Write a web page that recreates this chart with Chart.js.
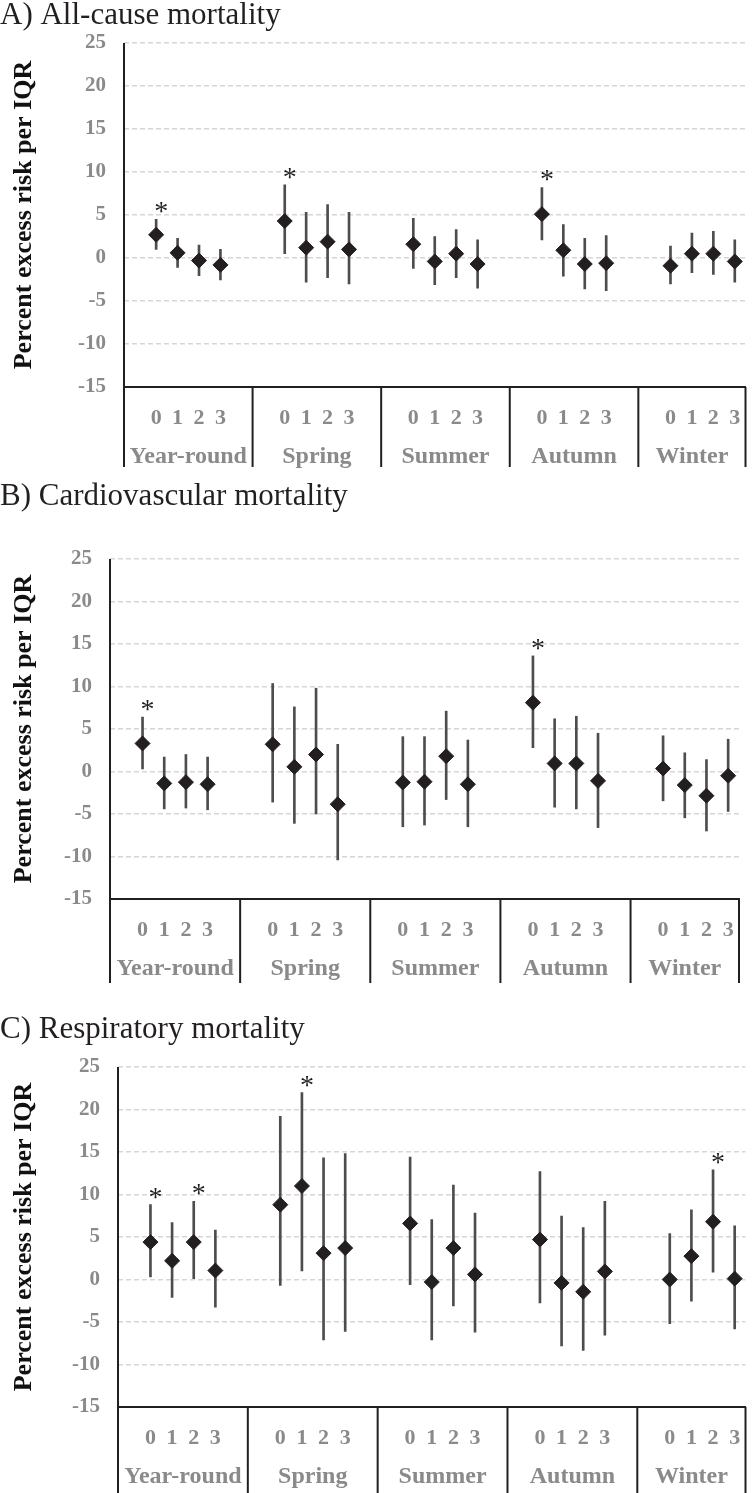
<!DOCTYPE html>
<html>
<head>
<meta charset="utf-8">
<script src="https://cdn.jsdelivr.net/npm/chart.js@4.4.0/dist/chart.umd.min.js"></script>
<style>
  body { margin: 0; background: #fff; }
  .panel { position: absolute; left: 0; width: 754px; }
</style>
</head>
<body>
<div class="panel" style="top:0px"><canvas id="chartA" width="754" height="470"></canvas></div>
<div class="panel" style="top:470px"><canvas id="chartB" width="754" height="513"></canvas></div>
<div class="panel" style="top:983px"><canvas id="chartC" width="754" height="510"></canvas></div>
<script>
const seasons = ["Year-round", "Spring", "Summer", "Autumn", "Winter"];
const lags = ["0", "1", "2", "3"];

// A) all-cause: estimate, lower and upper CI, significance
const allEst = [2.7, 0.6, -0.3, -0.8, 4.3, 1.2, 1.9, 1.0, 1.6, -0.4, 0.5, -0.7, 5.1, 0.9, -0.7, -0.6, -0.9, 0.5, 0.5, -0.4];
const allLo = [1.0, -1.1, -2.05, -2.55, 0.5, -2.8, -2.3, -3.0, -1.2, -3.1, -2.3, -3.5, 2.1, -2.1, -3.6, -3.8, -3.0, -1.7, -1.9, -2.8];
const allHi = [4.5, 2.3, 1.5, 1.0, 8.5, 5.3, 6.2, 5.3, 4.6, 2.5, 3.3, 2.1, 8.2, 3.9, 2.3, 2.6, 1.4, 2.9, 3.1, 2.1];
const allSig = [1, 0, 0, 0, 1, 0, 0, 0, 0, 0, 0, 0, 1, 0, 0, 0, 0, 0, 0, 0];

// B) cardiovascular
const cvEst = [3.3, -1.4, -1.25, -1.5, 3.2, 0.55, 2.0, -3.85, -1.3, -1.2, 1.8, -1.5, 8.1, 0.95, 0.95, -1.1, 0.35, -1.6, -2.85, -0.5];
const cvLo = [0.3, -4.4, -4.3, -4.5, -3.6, -6.1, -5.0, -10.4, -6.5, -6.3, -3.3, -6.5, 2.8, -4.2, -4.4, -6.6, -3.45, -5.45, -7.0, -4.7];
const cvHi = [6.4, 1.7, 2.0, 1.7, 10.35, 7.6, 9.8, 3.2, 4.1, 4.1, 7.1, 3.7, 13.6, 6.2, 6.5, 4.5, 4.2, 2.2, 1.4, 3.8];
const cvSig = [1, 0, 0, 0, 0, 0, 0, 0, 0, 0, 0, 0, 1, 0, 0, 0, 0, 0, 0, 0];

// C) respiratory
const respEst = [4.4, 2.2, 4.4, 1.05, 8.8, 11.0, 3.1, 3.7, 6.6, -0.3, 3.7, 0.6, 4.7, -0.4, -1.45, 0.95, 0.0, 2.75, 6.8, 0.1];
const respLo = [0.3, -2.1, 0.1, -3.25, -0.7, 1.0, -7.1, -6.1, -0.6, -7.1, -3.1, -6.2, -2.75, -7.8, -8.35, -6.55, -5.2, -2.55, 0.85, -5.8];
const respHi = [8.8, 6.7, 9.2, 5.8, 19.2, 22.0, 14.3, 14.8, 14.4, 7.05, 11.1, 7.8, 12.7, 7.45, 6.1, 9.2, 5.4, 8.2, 12.9, 6.3];
const respSig = [1, 0, 1, 0, 0, 1, 0, 0, 0, 0, 0, 0, 0, 0, 0, 0, 0, 0, 1, 0];

const serif = "'Liberation Serif', 'Times New Roman', serif";
const gray = "#8a8a8a";
const ink = "#231f20";

// each season gets a blank slot before its 4 lags and one after (not after the last)
const labels = [];
const catIndex = [];
seasons.forEach((s, g) => {
  labels.push("");
  lags.forEach(l => { catIndex.push(labels.length); labels.push(l); });
  if (g < seasons.length - 1) labels.push("");
});
const groupStart = [];
seasons.forEach((s, g) => groupStart.push(g * 6));

function spread(values) {
  const out = labels.map(() => null);
  values.forEach((v, k) => { out[catIndex[k]] = v; });
  return out;
}

const decor = {
  id: "decor",
  afterDatasetsDraw(chart, args, opts) {
    const ctx = chart.ctx;
    const x = chart.scales.x, y = chart.scales.y;
    ctx.save();
    ctx.fillStyle = ink;
    ctx.font = "28px " + serif;
    ctx.textAlign = "center";
    ctx.textBaseline = "alphabetic";
    opts.sig.forEach((s, k) => {
      if (!s) return;
      ctx.fillText("*", x.getPixelForValue(catIndex[k]) + 5, y.getPixelForValue(opts.hi[k]) + 1);
    });
    ctx.restore();
  },
  afterDraw(chart, args, opts) {
    const ctx = chart.ctx;
    const x = chart.scales.x;
    const area = chart.chartArea;
    const w = x.width / labels.length;
    const edges = groupStart.map(i => x.getPixelForValue(i) - w / 2);
    edges.push(area.right);
    ctx.save();
    ctx.strokeStyle = ink;
    ctx.lineWidth = 2;
    ctx.beginPath();
    ctx.moveTo(area.left, area.top);
    ctx.lineTo(area.left, area.bottom + opts.divLen);
    edges.slice(1).forEach(e => {
      ctx.moveTo(e, area.bottom);
      ctx.lineTo(e, area.bottom + opts.divLen);
    });
    ctx.stroke();
    ctx.fillStyle = gray;
    ctx.font = "bold 24px " + serif;
    ctx.textAlign = "center";
    ctx.textBaseline = "middle";
    seasons.forEach((s, g) => {
      ctx.fillText(s, (edges[g] + edges[g + 1]) / 2, area.bottom + 70);
    });
    ctx.restore();
  }
};

function makeChart(id, title, est, lo, hi, sig, p) {
  new Chart(document.getElementById(id), {
    type: "bar",
    data: {
      labels: labels,
      datasets: [
        {
          type: "line",
          data: spread(est),
          showLine: false,
          pointStyle: "rectRot",
          pointRadius: 7.5,
          pointBackgroundColor: ink,
          pointBorderColor: ink,
          pointBorderWidth: 1,
          order: 0
        },
        {
          type: "bar",
          data: spread(lo.map((v, k) => [v, hi[k]])),
          backgroundColor: "#4d4d4d",
          barThickness: 2,
          borderWidth: 0,
          order: 1
        }
      ]
    },
    options: {
      responsive: false,
      animation: false,
      layout: { padding: { left: 0, right: p.right, top: 0, bottom: 0 } },
      plugins: {
        legend: { display: false },
        tooltip: { enabled: false },
        title: {
          display: true,
          text: title,
          align: "start",
          color: ink,
          font: { family: serif, size: 31, weight: "normal", lineHeight: 1 },
          padding: { top: p.titleTop, bottom: p.titleBottom }
        },
        decor: { sig: sig, hi: hi, divLen: p.divLen }
      },
      scales: {
        x: {
          grid: { display: false },
          border: { color: ink, width: 2 },
          ticks: {
            autoSkip: false,
            maxRotation: 0,
            color: gray,
            padding: 10,
            font: { family: serif, size: 22, weight: "bold" }
          },
          afterFit(scale) { scale.height = p.xHeight; }
        },
        y: {
          min: -15,
          max: 25,
          ticks: {
            stepSize: 5,
            color: gray,
            padding: 18,
            font: { family: serif, size: 21, weight: "bold" }
          },
          grid: {
            drawTicks: false,
            lineWidth: 1.5,
            color: c => (c.tick && c.tick.value === -15 ? "rgba(0,0,0,0)" : "#d6d6d6")
          },
          border: { display: false, dash: [5, 3] },
          title: {
            display: true,
            text: "Percent excess risk per IQR",
            color: "#111111",
            font: { family: serif, size: 26, weight: "bold" },
            padding: { top: 9, bottom: 0 }
          },
          afterFit(scale) { scale.width = p.left; }
        }
      }
    },
    plugins: [decor]
  });
}

makeChart("chartA", "A) All-cause mortality", allEst, allLo, allHi, allSig,
  { left: 124, right: 2, titleTop: 0, titleBottom: 12, xHeight: 83, divLen: 80 });
makeChart("chartB", "B) Cardiovascular mortality", cvEst, cvLo, cvHi, cvSig,
  { left: 110, right: 15, titleTop: 11.5, titleBottom: 46.5, xHeight: 84, divLen: 84 });
makeChart("chartC", "C) Respiratory mortality", respEst, respLo, respHi, respSig,
  { left: 118, right: 8, titleTop: 31.5, titleBottom: 21.5, xHeight: 86, divLen: 86 });
</script>
</body>
</html>
